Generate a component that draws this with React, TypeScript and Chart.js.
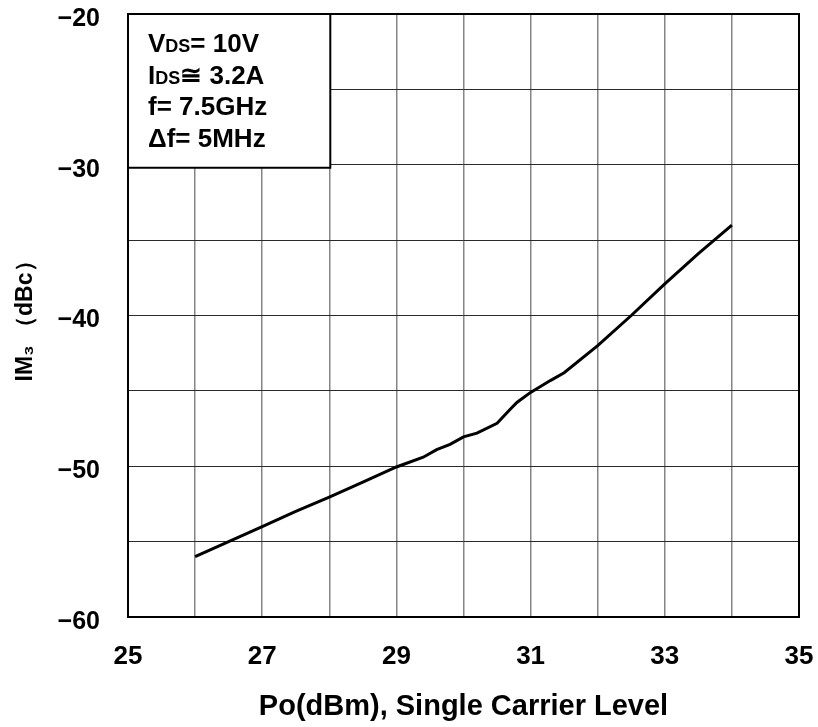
import React, { useEffect, useRef } from "react";
import { Chart, registerables } from "chart.js";

Chart.register(...registerables);

// Output power, single carrier level (dBm)
const poDbm = [26, 26.5, 27, 27.5, 28, 28.5, 29, 29.4, 29.6, 29.8, 30, 30.2, 30.5, 30.7, 30.8, 31, 31.3, 31.5, 32, 32.5, 33, 33.5, 34];
// Third order intermodulation (dBc)
const im3Dbc = [-56.0, -55.0, -54.0, -53.0, -52.05, -51.05, -50.05, -49.4, -48.9, -48.55, -48.05, -47.8, -47.15, -46.2, -45.75, -45.1, -44.3, -43.8, -42.0, -40.0, -37.9, -35.9, -34.0];

const xTickValues = [25, 27, 29, 31, 33, 35];
const xTickLabels = ["25", "27", "29", "31", "33", "35"];
const yTickValues = [-20, -30, -40, -50, -60];
const yTickLabels = ["\u221220", "\u221230", "\u221240", "\u221250", "\u221260"];

const xTitle = "Po(dBm), Single Carrier Level";
const yTitle = "IM\u2083 \uFF08dBc\uFF09";

// Condition box lines: [main, subscript, rest]
const condLines: [string, string, string][] = [
  ["V", "DS", "= 10V"],
  ["I", "DS", "\u2245 3.2A"],
  ["f= 7.5GHz", "", ""],
  ["\u0394f= 5MHz", "", ""],
];

const FONT = '"Liberation Sans", Arial, sans-serif';

const frameAndBox = {
  id: "frameAndBox",
  afterDraw(chart: any) {
    const { ctx, chartArea, scales } = chart;
    const { left, top, right, bottom } = chartArea;
    ctx.save();
    // frame
    ctx.strokeStyle = "#000";
    ctx.lineWidth = 2;
    ctx.strokeRect(left, top, right - left, bottom - top);
    // condition box
    const bx = left;
    const by = top;
    const br = scales.x.getPixelForValue(28) + 1;
    const bb = scales.y.getPixelForValue(-30) + 3;
    ctx.fillStyle = "#fff";
    ctx.fillRect(bx, by, br - bx, bb - by);
    ctx.strokeRect(bx, by, br - bx, bb - by);
    ctx.fillStyle = "#000";
    ctx.textBaseline = "alphabetic";
    ctx.textAlign = "left";
    const big = `bold 26px ${FONT}`;
    const small = `bold 18px ${FONT}`;
    condLines.forEach((ln, i) => {
      let x = bx + 20;
      const y = by + 38 + i * 31.7;
      ctx.font = big;
      ctx.fillText(ln[0], x, y);
      x += ctx.measureText(ln[0]).width;
      if (ln[1]) {
        ctx.font = small;
        ctx.fillText(ln[1], x, y);
        x += ctx.measureText(ln[1]).width;
      }
      if (ln[2]) {
        ctx.font = big;
        ctx.fillText(ln[2], x, y);
      }
    });
    ctx.restore();
  },
};

export default function App() {
  const ref = useRef<HTMLCanvasElement | null>(null);

  useEffect(() => {
    if (!ref.current) return;
    const chart = new Chart(ref.current, {
      type: "line",
      data: {
        datasets: [
          {
            data: poDbm.map((x, i) => ({ x, y: im3Dbc[i] })),
            borderColor: "#000",
            borderWidth: 3,
            pointRadius: 0,
            tension: 0,
            fill: false,
          },
        ],
      },
      options: {
        animation: false,
        responsive: true,
        maintainAspectRatio: false,
        layout: { padding: { top: 14, right: 19, bottom: 0, left: 0 } },
        plugins: { legend: { display: false }, tooltip: { enabled: false } },
        scales: {
          x: {
            type: "linear",
            min: 25,
            max: 35,
            afterFit: (s: any) => {
              s.height = 110;
              s.paddingLeft = 0;
              s.paddingRight = 0;
            },
            ticks: {
              stepSize: 1,
              autoSkip: false,
              maxRotation: 0,
              padding: 27,
              color: "#000",
              font: { family: FONT, size: 26, weight: "bold", lineHeight: 1 },
              callback: (v: any) => {
                const i = xTickValues.indexOf(Number(v));
                return i >= 0 ? xTickLabels[i] : "";
              },
            },
            grid: { color: "#858585", lineWidth: 1.5, drawTicks: false, tickLength: 0 },
            border: { display: false },
            title: {
              display: true,
              text: xTitle,
              color: "#000",
              font: { family: FONT, size: 29, weight: "bold", lineHeight: 1.2 },
              padding: { top: 0, bottom: 3 },
            },
          },
          y: {
            type: "linear",
            min: -60,
            max: -20,
            afterFit: (s: any) => {
              s.width = 128;
              s.paddingTop = 0;
              s.paddingBottom = 0;
            },
            ticks: {
              stepSize: 5,
              autoSkip: false,
              padding: 28,
              labelOffset: 5,
              color: "#000",
              font: { family: FONT, size: 25, weight: "bold", lineHeight: 1 },
              callback: (v: any) => {
                const i = yTickValues.indexOf(Number(v));
                return i >= 0 ? yTickLabels[i] : "";
              },
            },
            grid: { color: "#2a2a2a", lineWidth: 1, drawTicks: false, tickLength: 0 },
            border: { display: false },
            title: {
              display: true,
              text: yTitle,
              color: "#000",
              font: { family: FONT, size: 23, weight: "bold", lineHeight: 1.2 },
              padding: { top: 12, bottom: 0 },
            },
          },
        },
      },
      plugins: [frameAndBox],
    } as any);
    return () => chart.destroy();
  }, []);

  return (
    <div style={{ position: "fixed", left: 0, top: 0, width: 818, height: 727, background: "#fff" }}>
      <canvas ref={ref} />
    </div>
  );
}
